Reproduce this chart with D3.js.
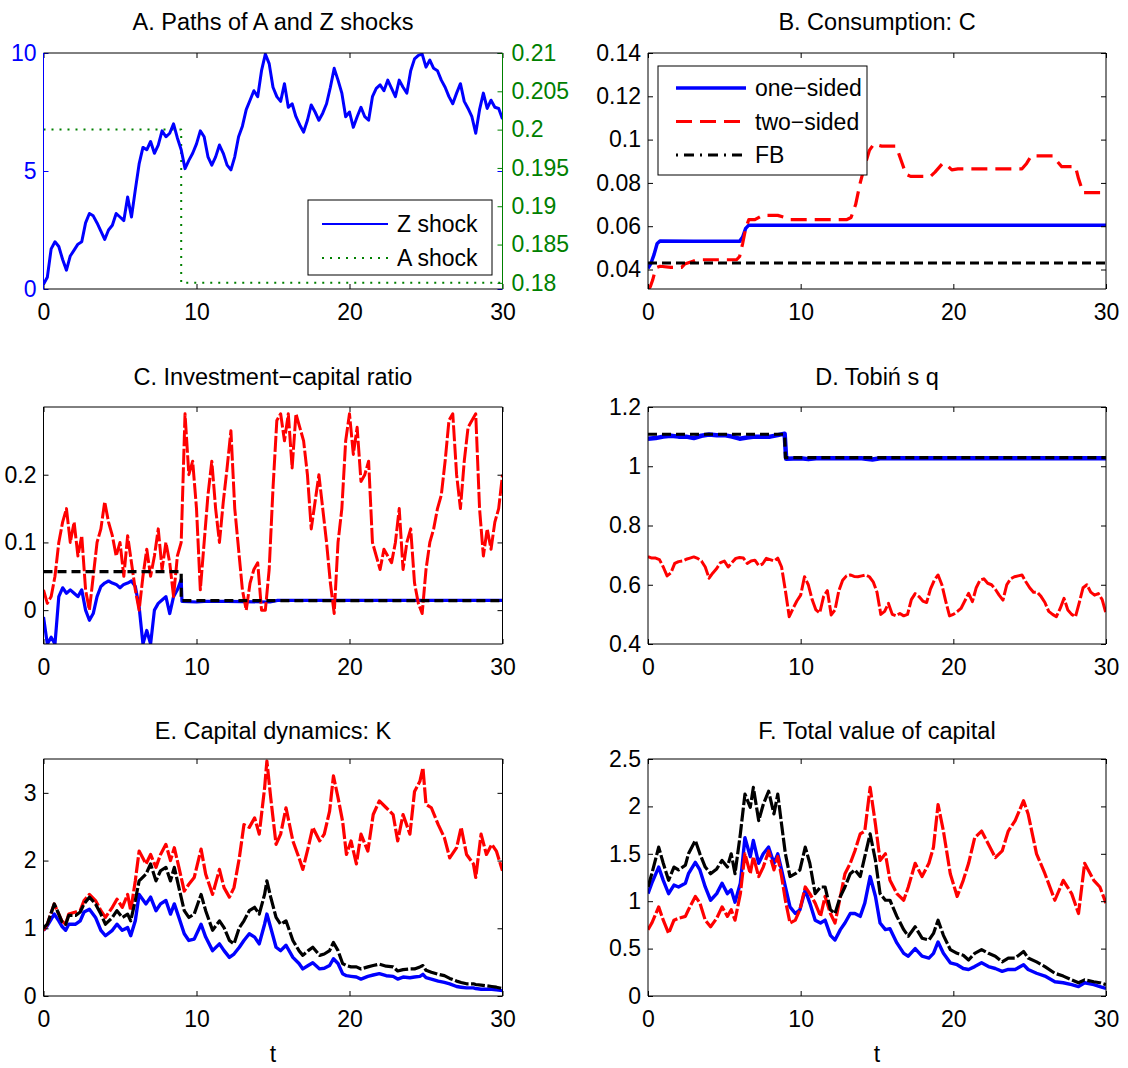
<!DOCTYPE html>
<html><head><meta charset="utf-8">
<script src="https://cdn.jsdelivr.net/npm/d3@7"></script>
<style>
body{margin:0;background:#fff}
text{font-family:"Liberation Sans",Arial,Helvetica,sans-serif}
</style>
</head><body>
<svg id="chart" width="1128" height="1068"></svg>
<script>
// ---------------- DATA ----------------
const xTicks = [0, 10, 20, 30];
const tGrid = d3.range(0, 30.0001, 0.25);

// Panel A
const zShock = [0.2,0.5,1.7,2.0,1.8,1.25,0.8,1.4,1.65,1.9,
 2.0,2.8,3.2,3.1,2.8,2.45,2.1,2.5,2.7,3.2,
 3.05,2.9,3.9,3.05,4.2,5.3,6.0,5.9,6.25,5.75,
 6.1,6.7,6.45,6.6,7.0,6.4,5.9,5.1,5.45,5.75,
 6.15,6.7,6.45,5.6,5.25,5.6,6.1,5.75,5.25,5.05,
 5.6,6.45,6.9,7.6,8.0,8.4,8.15,9.25,9.95,9.55,
 8.55,8.15,7.95,8.7,7.7,7.85,7.3,6.95,6.65,7.15,
 7.8,7.5,7.15,7.45,7.85,8.55,9.35,8.85,8.3,7.3,
 7.5,6.85,7.3,7.7,7.3,7.15,8.15,8.5,8.65,8.4,
 8.85,8.5,8.15,8.85,8.55,8.3,9.25,9.75,9.9,9.95,
 9.4,9.7,9.35,9.25,8.85,8.55,8.15,7.85,8.3,8.7,
 7.95,7.65,7.3,6.6,7.6,8.3,7.65,8.0,7.7,7.65,
 7.2];
const tAshock = [0, 9.0, 9.0, 30];
const aShock = [0.2, 0.2, 0.18, 0.18];
const zTicks = [0, 5, 10];
const aTicks = [0.18, 0.185, 0.19, 0.195, 0.2, 0.205, 0.21];

// Panel B
const tBblue = [0,0.2,0.4,0.6,0.8,3,6.0,6.2,6.4,6.6,30];
const bBlue = [0.0405,0.043,0.047,0.052,0.0532,0.053,0.053,0.055,0.059,0.0605,0.0605];
const tBred = [0,0.15,0.3,0.45,0.6,0.8,1.5,2.2,2.4,2.8,
 3.2,5.8,6.0,6.2,6.4,6.6,7.0,7.5,8.5,9.0,
 9.3,13.0,13.3,13.6,13.9,14.2,14.5,14.8,15.3,16.2,
 16.4,16.6,16.9,17.2,18.5,18.8,19.3,19.6,19.9,20.3,
 24.5,24.8,25.1,26.5,26.8,27.1,28.0,28.2,28.5,30];
const bRed = [0.031,0.032,0.035,0.039,0.041,0.0415,0.041,0.041,0.0425,0.0435,
 0.0445,0.0445,0.046,0.052,0.059,0.063,0.063,0.065,0.065,0.064,
 0.063,0.063,0.064,0.07,0.08,0.088,0.095,0.098,0.097,0.097,
 0.094,0.09,0.084,0.083,0.083,0.085,0.089,0.088,0.086,0.0865,
 0.0865,0.089,0.0925,0.0925,0.09,0.0875,0.0875,0.082,0.0755,0.0755];
const tBblack = [0, 30];
const bBlack = [0.043, 0.043];
const bTicks = [0.04, 0.06, 0.08, 0.1, 0.12, 0.14];

// Panel C
const tCblue = d3.range(0, 9.0001, 0.25).concat([9.05, 10, 10.5, 12, 14.8, 15.3, 30]);
const cBlue = [-0.01,-0.05,-0.04,-0.05,0.02,0.033,0.025,0.03,0.025,0.02,
 0.03,0.0,-0.015,-0.005,0.02,0.035,0.04,0.043,0.04,0.038,
 0.033,0.038,0.04,0.043,0.035,0.005,-0.05,-0.03,-0.05,0.0,
 0.01,0.015,0.02,-0.005,0.02,0.03,0.045,
 0.013,0.012,0.013,0.013,0.012,0.0145,0.0145];
const cRed = [0.03,0.01,0.02,0.05,0.1,0.13,0.15,0.1,0.13,0.08,
 0.11,0.03,0.0,0.05,0.1,0.12,0.16,0.13,0.11,0.08,
 0.1,0.05,0.11,0.07,0.03,0.0,0.05,0.09,0.05,0.08,
 0.12,0.06,0.1,0.07,0.02,0.08,0.1,0.29,0.2,0.22,
 0.15,0.03,0.1,0.17,0.22,0.15,0.1,0.16,0.21,0.265,
 0.15,0.09,0.03,0.0,0.04,0.06,0.07,0.0,0.0,0.06,
 0.18,0.28,0.29,0.25,0.29,0.21,0.29,0.27,0.25,0.2,
 0.12,0.16,0.2,0.15,0.1,0.04,-0.005,0.1,0.15,0.25,
 0.29,0.23,0.27,0.19,0.2,0.22,0.1,0.08,0.06,0.09,
 0.08,0.07,0.1,0.15,0.06,0.1,0.12,0.04,0.01,-0.005,
 0.06,0.1,0.12,0.15,0.17,0.22,0.28,0.29,0.2,0.15,
 0.22,0.27,0.28,0.29,0.15,0.08,0.12,0.09,0.13,0.15,
 0.2];
const tCblack = [0, 9.0, 9.0, 30];
const cBlack = [0.057, 0.057, 0.014, 0.014];
const cTicks = [0, 0.1, 0.2];

// Panel D
const tDblue = [0,0.5,1,1.5,2,2.5,3,3.5,4,4.5,5,5.5,6,6.5,7,7.5,8,8.5,8.95,9.05,10,10.5,11,14,14.7,15.2,30];
const dBlue = [1.093,1.095,1.1,1.103,1.1,1.1,1.095,1.103,1.107,1.105,
 1.105,1.1,1.093,1.097,1.1,1.1,1.1,1.105,1.11,1.025,
 1.027,1.024,1.027,1.027,1.023,1.027,1.027];
const dRed = [0.695,0.69,0.69,0.685,0.66,0.63,0.64,0.672,0.678,0.68,
 0.686,0.69,0.694,0.689,0.68,0.66,0.622,0.64,0.655,0.675,
 0.68,0.66,0.675,0.689,0.692,0.69,0.672,0.68,0.683,0.665,
 0.67,0.689,0.685,0.68,0.69,0.66,0.58,0.492,0.52,0.545,
 0.565,0.627,0.6,0.55,0.515,0.505,0.56,0.58,0.498,0.515,
 0.58,0.615,0.63,0.633,0.628,0.627,0.63,0.633,0.627,0.61,
 0.575,0.5,0.51,0.537,0.5,0.495,0.503,0.495,0.5,0.55,
 0.57,0.56,0.545,0.54,0.585,0.615,0.633,0.6,0.545,0.495,
 0.5,0.509,0.52,0.545,0.571,0.543,0.59,0.616,0.62,0.605,
 0.6,0.585,0.565,0.548,0.6,0.62,0.627,0.63,0.633,0.61,
 0.59,0.575,0.575,0.56,0.54,0.51,0.5,0.492,0.52,0.554,
 0.515,0.5,0.492,0.54,0.59,0.6,0.575,0.565,0.57,0.55,
 0.503];
const tDblack = [0, 8.95, 9.0, 30];
const dBlack = [1.108, 1.108, 1.029, 1.029];
const dTicks = [0.4, 0.6, 0.8, 1, 1.2];

// Panel E
const tE = [0,0.25,0.7,1.0,1.2,1.45,1.65,2.1,2.4,2.65,
 3.0,3.4,3.75,4.05,4.5,4.8,5.15,5.5,5.7,6.0,
 6.25,6.7,7.0,7.35,7.65,8.0,8.3,8.55,8.85,9.2,
 9.5,9.85,10.3,10.6,11.05,11.5,11.8,12.15,12.45,12.8,
 13.1,13.45,13.8,14.1,14.45,14.6,14.85,15.2,15.5,15.85,
 16.3,16.7,16.95,17.3,17.6,18.05,18.35,18.7,18.95,19.25,
 19.55,19.8,20.1,20.45,20.75,21.2,21.55,21.95,22.4,22.85,
 23.15,23.5,23.95,24.25,24.6,24.8,25.0,25.35,25.8,26.2,
 26.55,27.0,27.3,27.65,28.1,28.25,28.6,28.95,29.3,29.6,
 30.0];
const eRed = [0.97,1.06,1.36,1.21,1.11,1.06,1.21,1.24,1.26,1.41,
 1.5,1.41,1.26,1.16,1.31,1.43,1.31,1.5,1.26,1.7,
 2.14,1.95,2.09,1.9,2.09,2.24,2.0,2.19,1.9,1.55,
 1.65,1.75,2.17,1.8,1.5,1.87,1.6,1.46,1.6,2.04,
 2.53,2.49,2.63,2.39,3.07,3.47,2.93,2.24,2.39,2.78,
 2.29,2.04,1.87,2.19,2.49,2.29,2.39,2.73,3.25,2.93,
 2.58,2.09,2.29,1.95,2.39,2.14,2.68,2.88,2.78,2.68,
 2.29,2.68,2.39,3.02,3.17,3.37,2.83,2.78,2.53,2.34,
 2.04,2.19,2.49,2.09,1.95,1.75,2.39,2.09,2.24,2.14,
 1.85];
const eBlack = [1.01,1.06,1.36,1.21,1.1,1.06,1.19,1.19,1.24,1.36,
 1.46,1.36,1.21,1.06,1.16,1.26,1.16,1.21,1.11,1.41,
 1.7,1.8,1.95,1.7,1.85,1.9,1.7,1.9,1.6,1.26,
 1.16,1.21,1.5,1.26,0.97,1.11,1.01,0.82,0.77,1.01,
 1.11,1.26,1.31,1.21,1.5,1.7,1.46,1.16,1.06,1.11,
 0.82,0.67,0.6,0.67,0.72,0.6,0.62,0.67,0.79,0.67,
 0.48,0.45,0.43,0.43,0.4,0.43,0.45,0.47,0.44,0.43,
 0.37,0.39,0.4,0.4,0.43,0.45,0.38,0.35,0.32,0.3,
 0.26,0.22,0.2,0.18,0.18,0.17,0.16,0.15,0.14,0.13,
 0.11];
const eBlue = [0.97,1.04,1.21,1.11,1.03,0.97,1.06,1.06,1.11,1.24,
 1.28,1.16,0.97,0.89,0.97,1.06,0.97,1.01,0.89,1.11,
 1.5,1.36,1.46,1.26,1.36,1.41,1.21,1.36,1.16,0.92,
 0.82,0.84,1.06,0.87,0.67,0.77,0.67,0.57,0.62,0.72,
 0.82,0.92,0.87,0.77,1.06,1.21,1.01,0.72,0.67,0.75,
 0.57,0.48,0.4,0.45,0.49,0.4,0.41,0.45,0.55,0.48,
 0.33,0.3,0.29,0.28,0.25,0.29,0.31,0.33,0.3,0.29,
 0.25,0.28,0.27,0.28,0.29,0.32,0.27,0.25,0.22,0.2,
 0.18,0.14,0.13,0.12,0.12,0.11,0.1,0.1,0.1,0.09,
 0.08];
const eTicks = [0, 1, 2, 3];

// Panel F
const tF = [0,0.25,0.7,1.0,1.35,1.7,2.0,2.45,2.65,3.1,
 3.4,3.75,4.1,4.5,4.85,5.2,5.45,5.7,6.05,6.35,
 6.7,6.9,7.25,7.55,7.9,8.25,8.5,8.75,9.0,9.3,
 9.65,9.95,10.3,10.6,10.95,11.3,11.6,11.95,12.25,12.6,
 12.9,13.25,13.55,13.9,14.2,14.55,14.9,15.2,15.55,15.85,
 16.3,16.75,17.05,17.5,17.95,18.4,18.7,19.0,19.35,19.8,
 20.25,20.65,21.0,21.4,21.85,22.3,22.75,23.2,23.6,24.05,
 24.6,24.9,25.45,26.0,26.65,27.2,27.75,28.2,28.6,29.2,
 29.6,30.0];
const fBlack = [1.15,1.29,1.57,1.4,1.22,1.36,1.33,1.38,1.5,1.64,
 1.5,1.36,1.29,1.34,1.43,1.36,1.5,1.29,1.71,2.13,
 1.99,2.2,1.85,2.02,2.16,1.92,2.13,1.81,1.5,1.26,
 1.29,1.33,1.57,1.4,1.08,1.15,1.15,0.91,0.87,1.05,
 1.15,1.29,1.33,1.26,1.47,1.71,1.43,1.08,1.01,1.01,
 0.84,0.7,0.63,0.73,0.61,0.59,0.66,0.8,0.64,0.49,
 0.45,0.43,0.38,0.45,0.49,0.45,0.42,0.36,0.4,0.4,
 0.47,0.4,0.36,0.31,0.24,0.21,0.17,0.14,0.17,0.15,
 0.14,0.12];
const fBlue = [1.08,1.19,1.36,1.22,1.08,1.17,1.15,1.19,1.29,1.41,
 1.33,1.15,1.01,1.08,1.19,1.08,1.12,0.99,1.19,1.67,
 1.47,1.64,1.4,1.5,1.57,1.4,1.5,1.33,1.15,0.94,
 0.87,0.91,1.12,0.98,0.8,0.77,0.8,0.64,0.59,0.7,
 0.77,0.87,0.87,0.84,0.98,1.26,1.05,0.77,0.7,0.71,
 0.56,0.45,0.42,0.5,0.42,0.4,0.45,0.57,0.45,0.35,
 0.33,0.29,0.28,0.31,0.35,0.31,0.29,0.26,0.28,0.28,
 0.33,0.28,0.24,0.21,0.15,0.14,0.12,0.1,0.14,0.12,
 0.1,0.08];
const fRed = [0.7,0.77,0.94,0.8,0.66,0.8,0.82,0.84,0.91,1.05,
 0.98,0.8,0.73,0.82,0.94,0.84,0.91,0.8,1.08,1.5,
 1.29,1.47,1.26,1.36,1.53,1.33,1.47,1.26,1.01,0.77,
 0.8,0.91,1.15,1.08,0.98,0.84,1.05,0.87,0.77,1.05,
 1.29,1.4,1.53,1.71,1.74,2.2,1.81,1.43,1.5,1.22,
 1.08,1.01,1.15,1.4,1.26,1.4,1.57,2.02,1.74,1.29,
 1.05,1.22,1.4,1.67,1.74,1.6,1.46,1.53,1.74,1.85,
 2.06,1.92,1.5,1.29,1.01,1.22,1.08,0.87,1.4,1.22,
 1.15,0.98];
const fTicks = [0, 0.5, 1, 1.5, 2, 2.5];

// ---------------- DRAWING ----------------
const BLUE = "#0000ff", RED = "#ff0000", BLACK = "#000000", GREEN = "#008000";
const COLS = [[43.5, 502.5], [648, 1106]];
const ROWS = [[53, 289], [407, 644], [759, 996]];
const FS = 23;

const svg = d3.select("#chart");

function zip(t, v) { return t.map((d, i) => [d, v[i]]); }

function styleAxis(sel, color) {
  sel.select(".domain").remove();
  sel.attr("font-size", FS).attr("font-family", '"Liberation Sans",Arial,Helvetica,sans-serif');
  sel.selectAll(".tick line").attr("stroke", color).attr("stroke-width", 1);
  sel.selectAll(".tick text").attr("fill", color);
}

function panel(cfg) {
  const [x0, x1] = COLS[cfg.col];
  const [y0, y1] = ROWS[cfg.row];
  const x = d3.scaleLinear().domain([0, 30]).range([x0, x1]);
  const y = d3.scaleLinear().domain(cfg.yDomain).range([y1, y0]);
  const g = svg.append("g");
  const id = "clip" + cfg.col + cfg.row;
  g.append("clipPath").attr("id", id).append("rect")
    .attr("x", x0).attr("y", y0).attr("width", x1 - x0).attr("height", y1 - y0);

  // title
  g.append("text").attr("x", (x0 + x1) / 2).attr("y", cfg.titleY)
    .attr("text-anchor", "middle").attr("font-size", 23.5).text(cfg.title);

  // series
  const lines = g.append("g").attr("clip-path", `url(#${id})`);
  cfg.series.forEach(s => {
    const ys = s.y || y;
    lines.append("path")
      .datum(zip(s.t, s.v))
      .attr("fill", "none")
      .attr("stroke", s.color)
      .attr("stroke-width", s.w)
      .attr("stroke-dasharray", s.dash || null)
      .attr("stroke-linejoin", "round")
      .attr("d", d3.line().x(d => x(d[0])).y(d => ys(d[1])));
  });

  // axes
  const leftColor = cfg.leftColor || BLACK;
  g.append("g").attr("transform", `translate(0,${y1})`)
    .call(d3.axisBottom(x).tickValues(xTicks).tickSizeInner(-5).tickSizeOuter(0).tickPadding(15))
    .call(s => styleAxis(s, BLACK));
  g.append("g").attr("transform", `translate(0,${y0})`)
    .call(d3.axisTop(x).tickValues(xTicks).tickSizeInner(-5).tickSizeOuter(0).tickFormat(""))
    .call(s => styleAxis(s, BLACK));
  g.append("g").attr("transform", `translate(${x0},0)`)
    .call(d3.axisLeft(y).tickValues(cfg.yTicks).tickSizeInner(-5).tickSizeOuter(0).tickPadding(7).tickFormat(d => String(d)))
    .call(s => styleAxis(s, leftColor));
  g.append("g").attr("transform", `translate(${x1},0)`)
    .call(d3.axisRight(y).tickValues(cfg.yTicks).tickSizeInner(-5).tickSizeOuter(0).tickFormat(""))
    .call(s => styleAxis(s, leftColor));
  if (cfg.right) {
    g.append("g").attr("transform", `translate(${x1},0)`)
      .call(d3.axisRight(cfg.right.scale).tickValues(cfg.right.ticks).tickSizeInner(-5).tickSizeOuter(0).tickPadding(9).tickFormat(d => String(d)))
      .call(s => styleAxis(s, cfg.right.color));
  }

  // box
  g.append("line").attr("x1", x0).attr("x2", x1).attr("y1", y0).attr("y2", y0).attr("stroke", BLACK);
  g.append("line").attr("x1", x0).attr("x2", x1).attr("y1", y1).attr("y2", y1).attr("stroke", BLACK);
  g.append("line").attr("x1", x0).attr("x2", x0).attr("y1", y0).attr("y2", y1).attr("stroke", leftColor);
  g.append("line").attr("x1", x1).attr("x2", x1).attr("y1", y0).attr("y2", y1)
    .attr("stroke", cfg.right ? cfg.right.color : BLACK);

  if (cfg.xlabel) {
    g.append("text").attr("x", (x0 + x1) / 2).attr("y", y1 + 66)
      .attr("text-anchor", "middle").attr("font-size", FS).text(cfg.xlabel);
  }

  if (cfg.legend) {
    const L = cfg.legend;
    g.append("rect").attr("x", L.x).attr("y", L.y).attr("width", L.w).attr("height", L.h)
      .attr("fill", "#fff").attr("stroke", BLACK).attr("stroke-width", 1);
    L.items.forEach((it, i) => {
      const yy = L.y + L.first + i * L.step;
      g.append("line").attr("x1", L.x + L.s0).attr("x2", L.x + L.s1).attr("y1", yy).attr("y2", yy)
        .attr("stroke", it.color).attr("stroke-width", it.w).attr("stroke-dasharray", it.dash || null);
      g.append("text").attr("x", L.x + L.tx).attr("y", yy + 8).attr("font-size", FS).text(it.label);
    });
  }
  return { x, y };
}

// Panel A
const yRightA = d3.scaleLinear().domain([0.1792, 0.21]).range([ROWS[0][1], ROWS[0][0]]);
panel({
  col: 0, row: 0, title: "A. Paths of A and Z shocks", titleY: 30,
  yDomain: [0, 10], yTicks: zTicks, leftColor: BLUE,
  right: { scale: yRightA, ticks: aTicks, color: GREEN },
  series: [
    { t: tAshock, v: aShock, color: GREEN, w: 2, dash: "2,6", y: yRightA },
    { t: tGrid, v: zShock, color: BLUE, w: 3 }
  ],
  legend: { x: 308, y: 200, w: 184, h: 75, first: 24, step: 34, s0: 14, s1: 80, tx: 89,
    items: [
      { label: "Z shock", color: BLUE, w: 2 },
      { label: "A shock", color: GREEN, w: 2, dash: "2,6" }
    ] }
});

// Panel B
panel({
  col: 1, row: 0, title: "B. Consumption: C", titleY: 30,
  yDomain: [0.031, 0.14], yTicks: bTicks,
  series: [
    { t: tBblue, v: bBlue, color: BLUE, w: 3.5 },
    { t: tBred, v: bRed, color: RED, w: 3.2, dash: "16,8" },
    { t: tBblack, v: bBlack, color: BLACK, w: 3.2, dash: "9,5" }
  ],
  legend: { x: 658, y: 66, w: 209, h: 109, first: 22, step: 33.5, s0: 18, s1: 88, tx: 97,
    items: [
      { label: "one\u2212sided", color: BLUE, w: 3.5 },
      { label: "two\u2212sided", color: RED, w: 3.2, dash: "16,8" },
      { label: "FB", color: BLACK, w: 3.2, dash: "2,6,10,6" }
    ] }
});

// Panel C
panel({
  col: 0, row: 1, title: "C. Investment\u2212capital ratio", titleY: 385,
  yDomain: [-0.05, 0.3], yTicks: cTicks,
  series: [
    { t: tCblue, v: cBlue, color: BLUE, w: 3.2 },
    { t: tGrid, v: cRed, color: RED, w: 3, dash: "16,2.5" },
    { t: tCblack, v: cBlack, color: BLACK, w: 3.2, dash: "9,5" }
  ]
});

// Panel D
panel({
  col: 1, row: 1, title: "D. Tobi\u0144 s q", titleY: 385,
  yDomain: [0.4, 1.2], yTicks: dTicks,
  series: [
    { t: tDblue, v: dBlue, color: BLUE, w: 4.5 },
    { t: tGrid, v: dRed, color: RED, w: 3, dash: "16,2.5" },
    { t: tDblack, v: dBlack, color: BLACK, w: 3.2, dash: "9,5" }
  ]
});

// Panel E
panel({
  col: 0, row: 2, title: "E. Capital dynamics: K", titleY: 739, xlabel: "t",
  yDomain: [0, 3.5], yTicks: eTicks,
  series: [
    { t: tE, v: eBlue, color: BLUE, w: 3.4 },
    { t: tE, v: eRed, color: RED, w: 3.2, dash: "16,2.5" },
    { t: tE, v: eBlack, color: BLACK, w: 3.2, dash: "14,2.5" }
  ]
});

// Panel F
panel({
  col: 1, row: 2, title: "F. Total value of capital", titleY: 739, xlabel: "t",
  yDomain: [0, 2.5], yTicks: fTicks,
  series: [
    { t: tF, v: fBlue, color: BLUE, w: 3.4 },
    { t: tF, v: fRed, color: RED, w: 3.2, dash: "16,2.5" },
    { t: tF, v: fBlack, color: BLACK, w: 3.2, dash: "14,2.5" }
  ]
});
</script>
</body></html>
